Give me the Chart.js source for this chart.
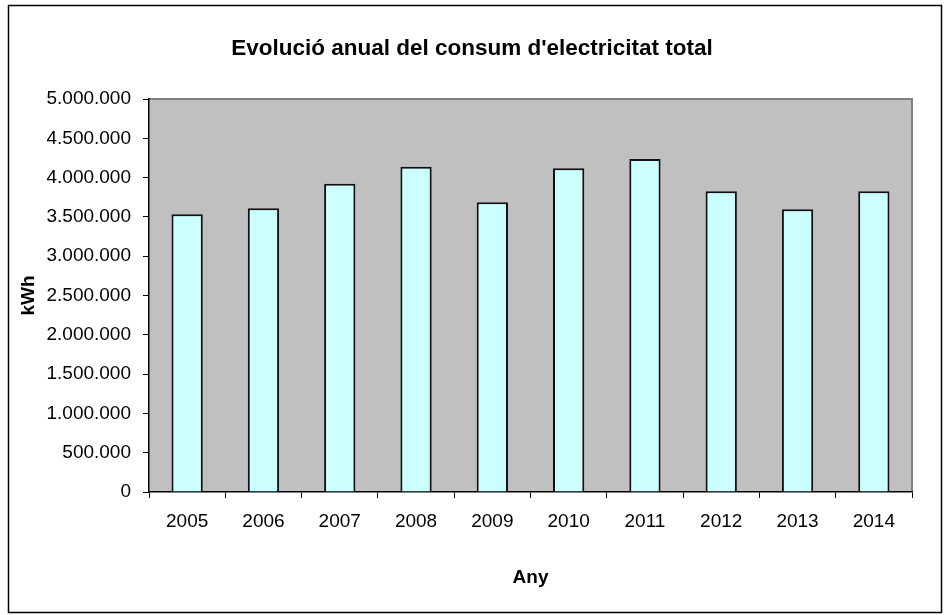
<!DOCTYPE html>
<html>
<head>
<meta charset="utf-8">
<script src="https://cdn.jsdelivr.net/npm/chart.js@4/dist/chart.umd.min.js"></script>
<style>
  body { margin: 0; background: #fff; }
  canvas { display: block; }
</style>
</head>
<body>
<canvas id="graficConsum" width="944" height="615"></canvas>
<script>
// Consum anual d'electricitat (kWh)
const anys = ["2005", "2006", "2007", "2008", "2009", "2010", "2011", "2012", "2013", "2014"];
const consum = [3533000, 3609000, 3922000, 4139000, 3686000, 4118000, 4237000, 3826000, 3597000, 3826000];
const titol = "Evolució anual del consum d'electricitat total";
const titolX = "Any";
const titolY = "kWh";

const font = "'Liberation Sans', Arial, sans-serif";

// separador de milers amb punt
function ambPunts(v) {
  return String(v).replace(/\B(?=(\d{3})+(?!\d))/g, ".");
}

// fons gris de l'àrea del gràfic i marc exterior
const fonsIMarc = {
  id: "fonsIMarc",
  beforeDraw(chart) {
    const { ctx, chartArea: a } = chart;
    ctx.save();
    ctx.fillStyle = "#c0c0c0";
    ctx.fillRect(a.left, a.top, a.right - a.left, a.bottom - a.top);
    ctx.strokeStyle = "#808080";
    ctx.lineWidth = 2;
    ctx.beginPath();
    ctx.moveTo(a.left, a.top);
    ctx.lineTo(a.right, a.top);
    ctx.lineTo(a.right, a.bottom);
    ctx.stroke();
    ctx.restore();
  },
  afterDraw(chart) {
    const ctx = chart.ctx;
    ctx.save();
    ctx.strokeStyle = "#000";
    ctx.lineWidth = 1.5;
    ctx.strokeRect(8.5, 5.5, 933, 607);
    ctx.restore();
  }
};

new Chart("graficConsum", {
  type: "bar",
  data: {
    labels: anys,
    datasets: [
      {
        data: consum,
        backgroundColor: "#ccffff",
        borderColor: "#111",
        borderWidth: 2,
        barPercentage: 0.41,
        categoryPercentage: 1
      }
    ]
  },
  options: {
    responsive: false,
    animation: false,
    devicePixelRatio: 1,
    // marges iguals a banda i banda perquè el títol quedi centrat
    layout: { padding: { left: 32, right: 32, top: 0, bottom: 0 } },
    plugins: {
      legend: { display: false },
      tooltip: { enabled: false },
      title: {
        display: true,
        text: titol,
        color: "#000",
        font: { family: font, size: 22.5, weight: "bold", lineHeight: 1.2 },
        padding: { top: 35, bottom: 37 }
      }
    },
    scales: {
      x: {
        afterFit(s) { s.height = 123; },
        grid: {
          offset: true,
          drawOnChartArea: false,
          drawTicks: true,
          tickLength: 6,
          color: "#000"
        },
        border: { display: true, color: "#000", width: 1.5 },
        ticks: {
          color: "#000",
          padding: 12,
          font: { family: font, size: 19 }
        },
        title: {
          display: true,
          text: titolX,
          color: "#000",
          font: { family: font, size: 19, weight: "bold", lineHeight: 1.2 },
          padding: { top: 0, bottom: 26 }
        }
      },
      y: {
        min: 0,
        max: 5000000,
        afterFit(s) { s.width = 117; },
        grid: {
          drawOnChartArea: false,
          drawTicks: true,
          tickLength: 6,
          color: "#000"
        },
        border: { display: true, color: "#000", width: 1.5 },
        ticks: {
          stepSize: 500000,
          color: "#000",
          padding: 12,
          font: { family: font, size: 19 },
          callback: (v) => ambPunts(v)
        },
        title: {
          display: true,
          text: titolY,
          color: "#000",
          font: { family: font, size: 19, weight: "bold", lineHeight: 1.2 },
          padding: { top: -15, bottom: 0 }
        }
      }
    }
  },
  plugins: [fonsIMarc]
});
</script>
</body>
</html>
